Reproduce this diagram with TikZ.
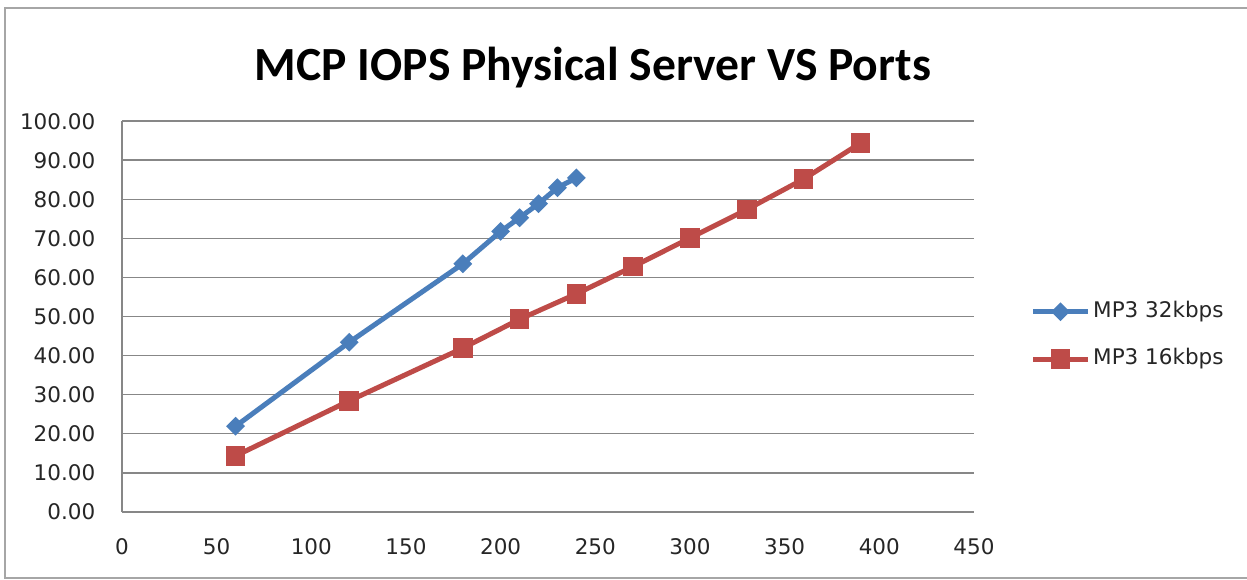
\documentclass[tikz,border=0pt]{standalone}
\usepackage{fontspec}
\setmainfont{DejaVu Sans}
\newfontfamily\titlefont{Carlito}
\usetikzlibrary{shapes.geometric}
\definecolor{serA}{HTML}{4A7EBB}
\definecolor{serB}{HTML}{BE4B48}
\definecolor{gridc}{HTML}{878787}
\definecolor{framec}{HTML}{A6A6A6}
\tikzset{
  grid line/.style={draw=gridc, line width=1.7pt},
  tick label/.style={font=\fontsize{21.5}{21.5}\selectfont, text=black!85, inner sep=0pt},
  blue series/.style={draw=serA, line width=5pt, line join=round},
  red series/.style={draw=serB, line width=5pt, line join=round},
  dmark/.style={diamond, fill=serA, inner sep=0pt, minimum width=19pt, minimum height=19pt},
  smark/.style={rectangle, fill=serB, inner sep=0pt, minimum width=19.5pt, minimum height=19.5pt},
}
\begin{document}
\begin{tikzpicture}[x=1pt, y=-1pt]
\useasboundingbox (0,0) rectangle (1247,579);
\fill[white] (0,0) rectangle (1247,579);
\draw[framec, line width=1.8pt] (1260,8) -- (5,8) -- (5,578) -- (1260,578);
\node[font=\titlefont\bfseries\fontsize{47.6}{47.6}\selectfont, anchor=base] (title) at (593,80) {MCP IOPS Physical Server VS Ports};
\begin{scope}[shift={(122,511.7)}, x=1.8933pt, y=3.904pt]
  \foreach \v in {10,20,...,100} {\draw[grid line] (0,\v) -- (450,\v);}
  \draw[grid line] (0,0) -- (450,0);
  \draw[grid line] (0,0) -- (0,100);
  \foreach \v/\t in {0/0.00,10/10.00,20/20.00,30/30.00,40/40.00,50/50.00,60/60.00,70/70.00,80/80.00,90/90.00,100/100.00}
    {\node[tick label, anchor=east] (yl\v) at (-14,\v) {\t};}
  \foreach \v in {0,50,...,450}
    {\node[tick label] (xl\v) at (\v,-9) {\v};}
  % series points
  \foreach \n/\a/\b in {1/60/21.9,2/120/43.4,3/180/63.5,4/200/71.8,5/210/75.3,6/220/78.9,7/230/83.0,8/240/85.5}
    {\coordinate (b\n) at (\a,\b);}
  \foreach \n/\a/\b in {1/60/14.3,2/120/28.4,3/180/41.9,4/210/49.3,5/240/55.8,6/270/62.8,7/300/70.1,8/330/77.4,9/360/85.2,10/390/94.4}
    {\coordinate (r\n) at (\a,\b);}
  \draw[blue series] (b1) -- (b2) -- (b3) -- (b4) -- (b5) -- (b6) -- (b7) -- (b8);
  \foreach \n in {1,...,8} {\node[dmark] (bm\n) at (b\n) {};}
  \draw[red series] (r1) -- (r2) -- (r3) -- (r4) -- (r5) -- (r6) -- (r7) -- (r8) -- (r9) -- (r10);
  \foreach \n in {1,...,10} {\node[smark] (rm\n) at (r\n) {};}
\end{scope}
% legend
\coordinate (la1) at (1033,311.7); \coordinate (la2) at (1088,311.7);
\coordinate (lb1) at (1033,359); \coordinate (lb2) at (1088,359);
\draw[blue series] (la1) -- (la2);
\node[dmark] (lam) at (1060.5,311.7) {};
\draw[red series] (lb1) -- (lb2);
\node[smark] (lbm) at (1060.5,359) {};
\node[tick label, anchor=west] (lta) at (1093,311.7) {MP3 32kbps};
\node[tick label, anchor=west] (ltb) at (1093,359) {MP3 16kbps};
\end{tikzpicture}
\end{document}
